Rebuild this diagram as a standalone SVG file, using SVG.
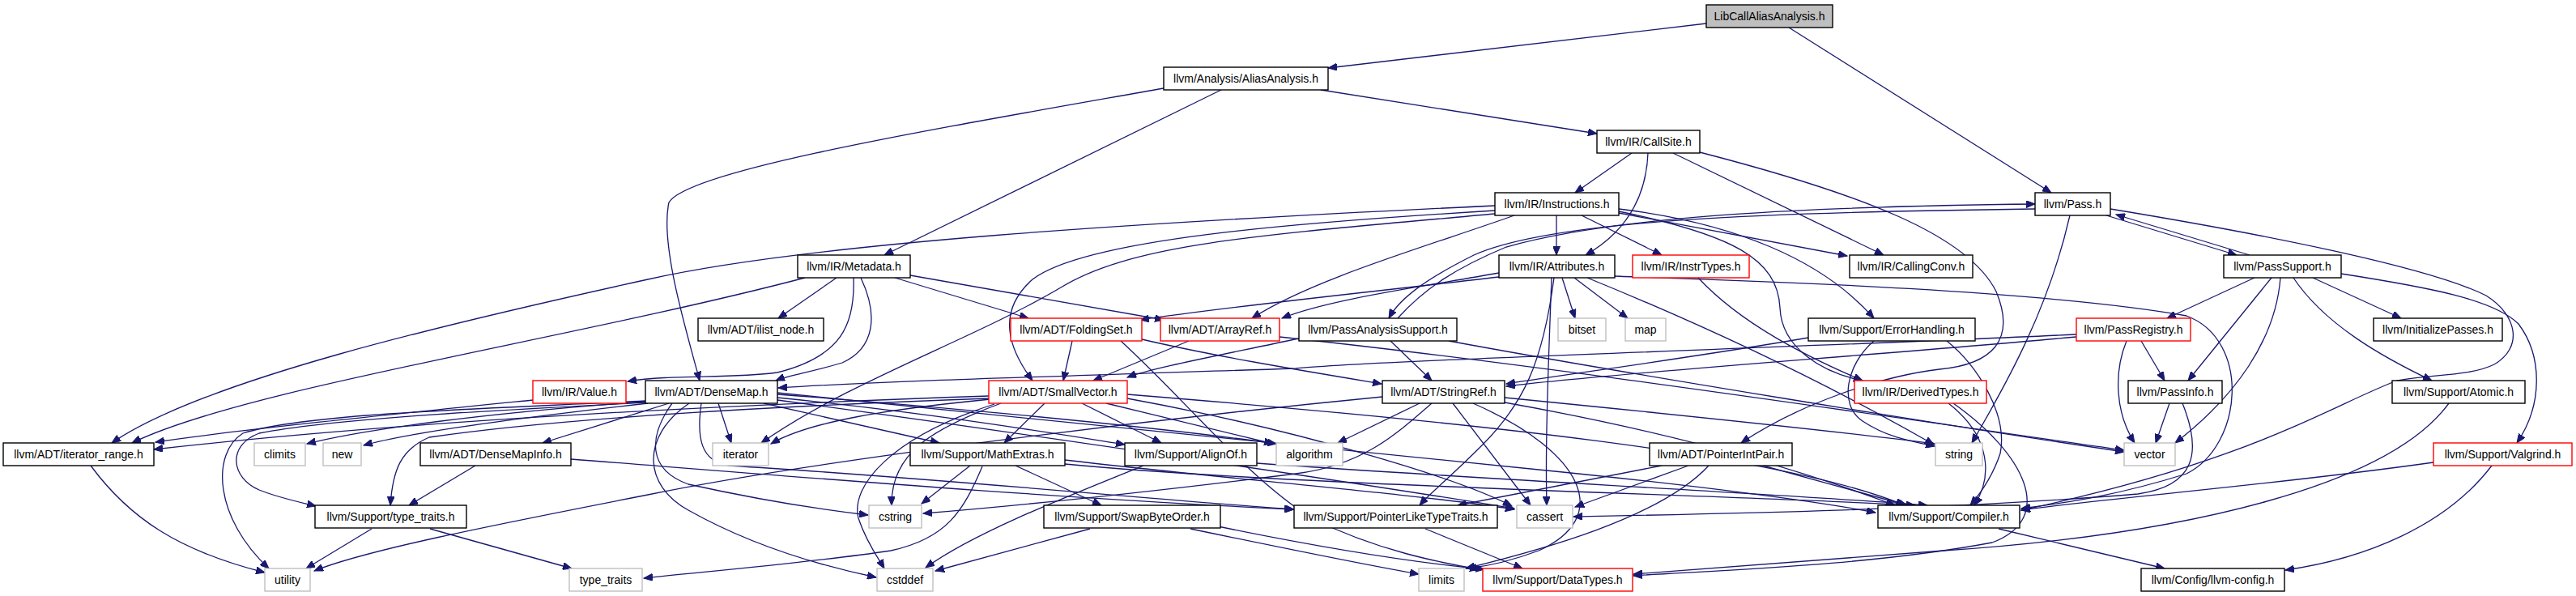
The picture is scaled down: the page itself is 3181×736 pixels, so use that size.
<svg xmlns="http://www.w3.org/2000/svg" width="3181" height="736" viewBox="0 0 3181 736">
<defs>
<style>
.n rect{fill:#fff;stroke:#000;stroke-width:1.4}
.n.g rect{stroke:#bfbfbf}
.n.r rect{stroke:#ff0000}
.n.cur rect{fill:#bfbfbf}
.n text{font-family:"Liberation Sans",Arial,sans-serif;font-size:14px;text-anchor:middle;fill:#000}
#edges path{fill:none;stroke:#191970;stroke-width:1.3;marker-end:url(#a)}
</style>
<marker id="a" markerUnits="userSpaceOnUse" markerWidth="12" markerHeight="9" refX="11" refY="4.5" orient="auto"><path d="M0,0 L11,4.5 L0,9 z" fill="#191970" stroke="#191970"/></marker>
</defs>
<rect width="3181" height="736" fill="#fff"/>
<g id="edges">
<path d="M2107,29 L1640,84"/>
<path d="M2209,34 L2533,238"/>
<path d="M1508,111 L1092,315"/>
<path d="M1631,111 L1972,165"/>
<path d="M1437,109 C1150,160 850,210 826,250 C815,300 845,400 864,470"/>
<path d="M2015,189 L1945,238"/>
<path d="M2035,189 C2033,240 2010,285 1958,315"/>
<path d="M2066,189 L2326,315"/>
<path d="M2099,188 C2300,240 2430,290 2465,360 C2490,420 2460,450 2395,456 C2320,465 2220,500 2150,547"/>
<path d="M2601,266 L2762,315"/>
<path d="M2778,315 L2613,265"/>
<path d="M2513,258 C2200,262 1920,270 1820,315 C1770,340 1730,365 1715,393"/>
<path d="M1726,393 C1760,355 1800,330 1860,305 C2000,265 2250,255 2513,252"/>
<path d="M2556,266 C2530,380 2480,470 2435,547"/>
<path d="M2606,258 C2800,290 3000,330 3070,365 C3110,390 3115,430 3080,450 C3050,465 3000,462 2960,470 C2880,500 2780,570 2496,630"/>
<path d="M1922,266 L1922,315"/>
<path d="M1953,266 L2052,315"/>
<path d="M1999,263 L2281,316"/>
<path d="M1999,258 C2140,275 2250,320 2314,393"/>
<path d="M1999,261 C2140,290 2195,320 2198,380 C2200,430 2250,460 2300,470"/>
<path d="M1846,254 C1400,275 1000,300 800,345 C550,400 250,470 138,547"/>
<path d="M1846,260 C1600,275 1340,295 1275,345 C1230,385 1245,430 1275,470"/>
<path d="M1870,266 C1760,305 1620,345 1546,393"/>
<path d="M1846,264 C1560,290 1400,300 1310,355 C1200,420 1050,470 940,547"/>
<path d="M994,343 C700,420 300,480 163,547"/>
<path d="M1033,343 L961,393"/>
<path d="M1054,343 C1056,400 1040,440 960,460 C900,468 830,462 775,471"/>
<path d="M1063,343 C1085,390 1080,430 1040,448 C1000,460 975,463 958,470"/>
<path d="M1105,343 L1270,393"/>
<path d="M1124,340 L1437,395"/>
<path d="M1851,337 C1750,355 1640,370 1583,393"/>
<path d="M1851,342 C1700,360 1520,378 1408,395"/>
<path d="M1929,343 L1945,393"/>
<path d="M1944,343 L2010,393"/>
<path d="M1916,343 C1912,450 1908,550 1910,624"/>
<path d="M1919,343 C1905,450 1880,500 1830,550 C1790,590 1765,610 1753,624"/>
<path d="M1960,343 C2100,400 2250,470 2388,549"/>
<path d="M2097,343 C2150,400 2230,440 2300,470"/>
<path d="M2784,343 L2676,393"/>
<path d="M2805,343 L2702,470"/>
<path d="M2816,343 C2810,420 2760,490 2686,547"/>
<path d="M2856,343 L2965,393"/>
<path d="M2832,343 C2870,400 2940,440 3003,470"/>
<path d="M2891,338 C3000,355 3080,370 3110,400 C3140,440 3140,500 3108,547"/>
<path d="M1324,421 L1313,470"/>
<path d="M1410,419 C1500,440 1610,458 1706,474"/>
<path d="M1384,421 C1470,500 1540,590 1620,640 C1700,680 1780,695 1826,703"/>
<path d="M1468,421 L1350,470"/>
<path d="M1580,416 C1900,450 2300,510 2623,556"/>
<path d="M1604,418 C1500,440 1420,455 1392,466"/>
<path d="M1717,421 L1768,470"/>
<path d="M1789,421 C2000,460 2400,525 2623,558"/>
<path d="M2233,417 C2100,440 1950,460 1860,474"/>
<path d="M2404,421 C2440,450 2480,510 2470,560 C2460,590 2445,610 2433,624"/>
<path d="M2314,421 C2280,450 2270,500 2300,520 C2330,540 2360,545 2389,551"/>
<path d="M2564,413 C2200,430 1700,445 1600,455 C1300,465 1100,470 961,479"/>
<path d="M2564,416 C2300,440 2000,460 1860,477"/>
<path d="M2644,421 L2673,470"/>
<path d="M2626,421 C2610,460 2612,510 2636,547"/>
<path d="M658,494 C500,510 300,530 192,546"/>
<path d="M1221,489 C900,500 500,520 190,555"/>
<path d="M826,498 L670,547"/>
<path d="M797,496 C600,510 450,530 379,548"/>
<path d="M800,498 C650,515 500,535 449,550"/>
<path d="M797,495 C600,505 380,510 300,535 C260,560 265,640 332,702"/>
<path d="M797,497 C650,505 420,515 320,535 C280,550 285,590 320,605 C345,615 370,620 390,625"/>
<path d="M1221,492 C1000,500 700,515 530,540 C495,555 485,580 482,624"/>
<path d="M887,498 L903,547"/>
<path d="M943,498 L1160,547"/>
<path d="M960,491 C1150,510 1300,535 1389,549"/>
<path d="M960,487 C1200,505 1450,530 1576,548"/>
<path d="M866,498 C860,540 865,570 900,575 C1150,590 1400,615 1598,629"/>
<path d="M830,498 C800,540 800,580 850,598 C950,620 1020,630 1072,636"/>
<path d="M851,498 C790,540 795,600 850,630 C930,675 1020,700 1082,713"/>
<path d="M960,485 C1300,520 1700,560 1900,580 C2100,600 2250,620 2316,633"/>
<path d="M960,494 C1300,540 1700,600 1870,628"/>
<path d="M1223,493 C1100,505 1000,520 952,548"/>
<path d="M1290,498 L1240,547"/>
<path d="M1336,498 L1434,547"/>
<path d="M1366,498 L1572,548"/>
<path d="M1236,498 C1150,530 1100,560 1101,624"/>
<path d="M1228,499 C1100,540 1050,600 1060,640 C1070,670 1085,690 1092,702"/>
<path d="M1392,487 C1800,520 2200,560 2352,624"/>
<path d="M1392,492 C1600,530 1800,590 1867,625"/>
<path d="M1198,575 L1138,622"/>
<path d="M1213,576 C1190,630 1170,665 1100,680 C1000,695 880,705 795,714"/>
<path d="M1254,575 L1360,624"/>
<path d="M1315,568 C1500,590 1750,610 1870,629"/>
<path d="M1315,573 C1600,600 2100,610 2365,624"/>
<path d="M1412,575 C1300,620 1200,660 1143,701"/>
<path d="M1552,572 C1800,590 2200,610 2380,624"/>
<path d="M1346,653 L1155,705"/>
<path d="M1470,653 C1600,680 1700,700 1752,709"/>
<path d="M1504,650 C1650,680 1750,695 1833,703"/>
<path d="M1760,653 L1880,702"/>
<path d="M2052,575 L1800,624"/>
<path d="M2085,575 L1945,626"/>
<path d="M2110,575 C2050,640 1900,680 1810,702"/>
<path d="M2177,575 L2355,624"/>
<path d="M1753,498 L1652,547"/>
<path d="M1794,498 L1890,624"/>
<path d="M1768,498 C1720,540 1680,575 1600,585 C1400,610 1250,625 1140,634"/>
<path d="M1819,498 C1960,560 1990,640 1900,680 C1860,695 1830,700 1812,702"/>
<path d="M1858,491 C2050,510 2250,530 2389,548"/>
<path d="M1707,490 C1400,520 1000,570 800,611 C600,650 450,680 388,705"/>
<path d="M1858,497 C2100,540 2250,590 2340,624"/>
<path d="M2406,498 C2460,540 2460,590 2438,624"/>
<path d="M2412,498 C2500,560 2540,640 2460,670 C2300,700 2100,705 2017,711"/>
<path d="M2679,498 L2662,547"/>
<path d="M2695,498 C2720,560 2710,600 2640,610 C2400,630 2100,635 1943,638"/>
<path d="M3024,498 C2950,600 2700,660 2400,680 C2200,695 2080,705 2017,709"/>
<path d="M3005,571 C2800,600 2600,615 2496,630"/>
<path d="M3077,575 C3020,650 2920,690 2822,704"/>
<path d="M2468,653 L2673,702"/>
<path d="M459,653 L378,702"/>
<path d="M531,653 L706,702"/>
<path d="M112,575 C160,640 220,680 327,707"/>
<path d="M587,575 L505,624"/>
<path d="M705,567 C1000,590 1300,615 1597,629"/>
<path d="M1994,341 C2100,345 2500,355 2700,390 C2780,420 2770,550 2700,585 C2620,610 2560,620 2496,628"/>
</g>
<g id="n1" class="n cur"><rect x="2107" y="6" width="156" height="28"/><text x="2185" y="25">LibCallAliasAnalysis.h</text></g>
<g id="n2" class="n"><rect x="1437" y="83" width="203" height="28"/><text x="1538.5" y="102">llvm/Analysis/AliasAnalysis.h</text></g>
<g id="n3" class="n"><rect x="1972" y="161" width="127" height="28"/><text x="2035.5" y="180">llvm/IR/CallSite.h</text></g>
<g id="n4" class="n"><rect x="2513" y="238" width="93" height="28"/><text x="2559.5" y="257">llvm/Pass.h</text></g>
<g id="n5" class="n"><rect x="1846" y="238" width="153" height="28"/><text x="1922.5" y="257">llvm/IR/Instructions.h</text></g>
<g id="n6" class="n"><rect x="985" y="315" width="139" height="28"/><text x="1054.5" y="334">llvm/IR/Metadata.h</text></g>
<g id="n7" class="n"><rect x="1851" y="315" width="143" height="28"/><text x="1922.5" y="334">llvm/IR/Attributes.h</text></g>
<g id="n8" class="n r"><rect x="2016" y="315" width="144" height="28"/><text x="2088" y="334">llvm/IR/InstrTypes.h</text></g>
<g id="n9" class="n"><rect x="2284" y="315" width="152" height="28"/><text x="2360" y="334">llvm/IR/CallingConv.h</text></g>
<g id="n10" class="n"><rect x="2746" y="315" width="145" height="28"/><text x="2818.5" y="334">llvm/PassSupport.h</text></g>
<g id="n11" class="n"><rect x="862" y="393" width="155" height="28"/><text x="939.5" y="412">llvm/ADT/ilist_node.h</text></g>
<g id="n12" class="n r"><rect x="1248" y="393" width="162" height="28"/><text x="1329" y="412">llvm/ADT/FoldingSet.h</text></g>
<g id="n13" class="n r"><rect x="1433" y="393" width="147" height="28"/><text x="1506.5" y="412">llvm/ADT/ArrayRef.h</text></g>
<g id="n14" class="n"><rect x="1604" y="393" width="195" height="28"/><text x="1701.5" y="412">llvm/PassAnalysisSupport.h</text></g>
<g id="n15" class="n g"><rect x="1924" y="393" width="59" height="28"/><text x="1953.5" y="412">bitset</text></g>
<g id="n16" class="n g"><rect x="2007" y="393" width="50" height="28"/><text x="2032" y="412">map</text></g>
<g id="n17" class="n"><rect x="2233" y="393" width="206" height="28"/><text x="2336" y="412">llvm/Support/ErrorHandling.h</text></g>
<g id="n18" class="n r"><rect x="2564" y="393" width="141" height="28"/><text x="2634.5" y="412">llvm/PassRegistry.h</text></g>
<g id="n19" class="n"><rect x="2931" y="393" width="159" height="28"/><text x="3010.5" y="412">llvm/InitializePasses.h</text></g>
<g id="n20" class="n r"><rect x="658" y="470" width="115" height="28"/><text x="715.5" y="489">llvm/IR/Value.h</text></g>
<g id="n21" class="n"><rect x="797" y="470" width="163" height="28"/><text x="878.5" y="489">llvm/ADT/DenseMap.h</text></g>
<g id="n22" class="n r"><rect x="1221" y="470" width="171" height="28"/><text x="1306.5" y="489">llvm/ADT/SmallVector.h</text></g>
<g id="n23" class="n"><rect x="1707" y="470" width="151" height="28"/><text x="1782.5" y="489">llvm/ADT/StringRef.h</text></g>
<g id="n24" class="n r"><rect x="2290" y="470" width="163" height="28"/><text x="2371.5" y="489">llvm/IR/DerivedTypes.h</text></g>
<g id="n25" class="n"><rect x="2628" y="470" width="116" height="28"/><text x="2686" y="489">llvm/PassInfo.h</text></g>
<g id="n26" class="n"><rect x="2954" y="470" width="164" height="28"/><text x="3036" y="489">llvm/Support/Atomic.h</text></g>
<g id="n27" class="n"><rect x="4" y="547" width="186" height="28"/><text x="97" y="566">llvm/ADT/iterator_range.h</text></g>
<g id="n28" class="n g"><rect x="314" y="547" width="63" height="28"/><text x="345.5" y="566">climits</text></g>
<g id="n29" class="n g"><rect x="399" y="547" width="47" height="28"/><text x="422.5" y="566">new</text></g>
<g id="n30" class="n"><rect x="519" y="547" width="186" height="28"/><text x="612" y="566">llvm/ADT/DenseMapInfo.h</text></g>
<g id="n31" class="n g"><rect x="880" y="547" width="69" height="28"/><text x="914.5" y="566">iterator</text></g>
<g id="n32" class="n"><rect x="1124" y="547" width="191" height="28"/><text x="1219.5" y="566">llvm/Support/MathExtras.h</text></g>
<g id="n33" class="n"><rect x="1389" y="547" width="163" height="28"/><text x="1470.5" y="566">llvm/Support/AlignOf.h</text></g>
<g id="n34" class="n g"><rect x="1576" y="547" width="82" height="28"/><text x="1617" y="566">algorithm</text></g>
<g id="n35" class="n"><rect x="2037" y="547" width="176" height="28"/><text x="2125" y="566">llvm/ADT/PointerIntPair.h</text></g>
<g id="n36" class="n g"><rect x="2390" y="547" width="58" height="28"/><text x="2419" y="566">string</text></g>
<g id="n37" class="n g"><rect x="2623" y="547" width="63" height="28"/><text x="2654.5" y="566">vector</text></g>
<g id="n38" class="n r"><rect x="3005" y="547" width="171" height="28"/><text x="3090.5" y="566">llvm/Support/Valgrind.h</text></g>
<g id="n39" class="n"><rect x="389" y="624" width="187" height="28"/><text x="482.5" y="643">llvm/Support/type_traits.h</text></g>
<g id="n40" class="n g"><rect x="1073" y="624" width="65" height="28"/><text x="1105.5" y="643">cstring</text></g>
<g id="n41" class="n"><rect x="1289" y="624" width="218" height="28"/><text x="1398" y="643">llvm/Support/SwapByteOrder.h</text></g>
<g id="n42" class="n"><rect x="1598" y="624" width="251" height="28"/><text x="1723.5" y="643">llvm/Support/PointerLikeTypeTraits.h</text></g>
<g id="n43" class="n g"><rect x="1873" y="624" width="69" height="28"/><text x="1907.5" y="643">cassert</text></g>
<g id="n44" class="n"><rect x="2319" y="624" width="175" height="28"/><text x="2406.5" y="643">llvm/Support/Compiler.h</text></g>
<g id="n45" class="n g"><rect x="327" y="702" width="56" height="28"/><text x="355" y="721">utility</text></g>
<g id="n46" class="n g"><rect x="703" y="702" width="90" height="28"/><text x="748" y="721">type_traits</text></g>
<g id="n47" class="n g"><rect x="1083" y="702" width="69" height="28"/><text x="1117.5" y="721">cstddef</text></g>
<g id="n48" class="n g"><rect x="1752" y="702" width="56" height="28"/><text x="1780" y="721">limits</text></g>
<g id="n49" class="n r"><rect x="1831" y="702" width="185" height="28"/><text x="1923.5" y="721">llvm/Support/DataTypes.h</text></g>
<g id="n50" class="n"><rect x="2644" y="702" width="177" height="28"/><text x="2732.5" y="721">llvm/Config/llvm-config.h</text></g>
</svg>
